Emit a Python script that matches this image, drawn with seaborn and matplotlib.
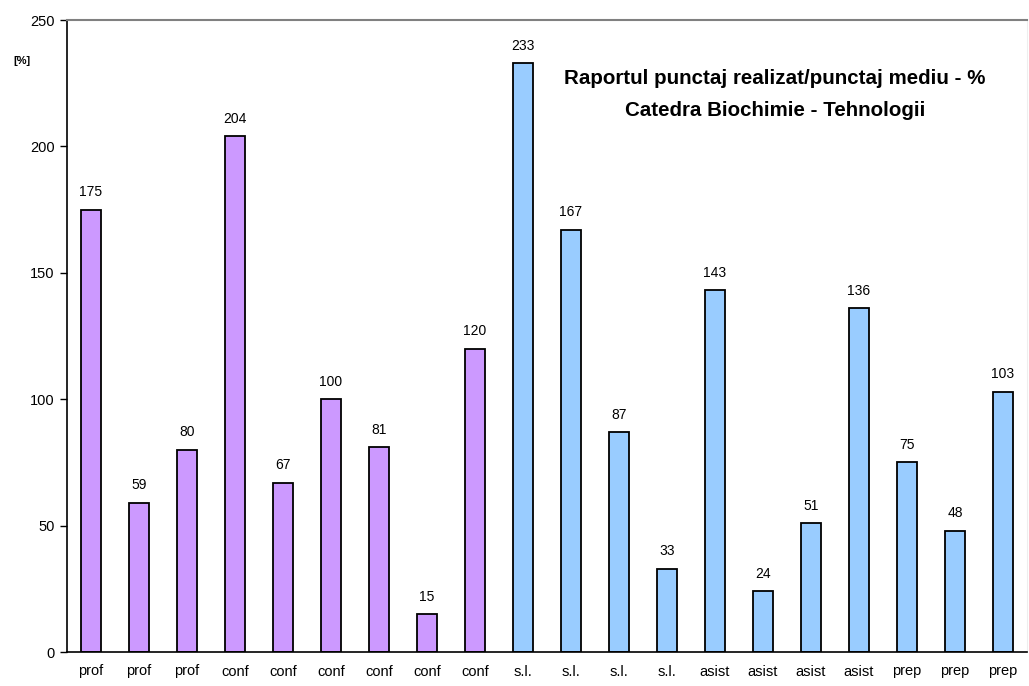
import pandas as pd
import matplotlib
matplotlib.use('Agg')
import matplotlib.pyplot as plt
import seaborn as sns
import numpy as np

# Data
posturi = ['prof', 'prof', 'prof', 'conf', 'conf', 'conf', 'conf', 'conf', 'conf',
           's.l.', 's.l.', 's.l.', 's.l.', 'asist', 'asist', 'asist', 'asist',
           'prep', 'prep', 'prep']
valori = [175, 59, 80, 204, 67, 100, 81, 15, 120,
          233, 167, 87, 33, 143, 24, 51, 136, 75, 48, 103]
grupe = ['prof/conf'] * 9 + ['s.l./asist/prep'] * 11
culori = {'prof/conf': '#CC99FF', 's.l./asist/prep': '#99CCFF'}

df = pd.DataFrame({'poz': range(len(valori)), 'post': posturi,
                   'valoare': valori, 'grupa': grupe})

sns.set_style('white')
plt.rcParams['font.family'] = ['Liberation Sans', 'DejaVu Sans']
plt.rcParams['text.color'] = 'black'
plt.rcParams['xtick.color'] = 'black'
plt.rcParams['ytick.color'] = 'black'

fig = plt.figure(figsize=(10.29, 6.86), dpi=100)
ax = fig.add_axes([67 / 1029, 1 - 652 / 686, 960 / 1029, 632 / 686])

sns.barplot(data=df, x='poz', y='valoare', hue='grupa', palette=culori,
            dodge=False, width=0.4, edgecolor='black', linewidth=1.3,
            saturation=1, legend=False, ax=ax)

# value labels
for i, v in enumerate(valori):
    ax.annotate(str(v), (i, v), xytext=(0, 7.5), textcoords='offset points',
                ha='center', va='bottom', fontsize=10, color='black')

ax.set_xlim(-0.5, len(valori) - 0.5)
ax.set_ylim(0, 250)
ax.set_yticks([0, 50, 100, 150, 200, 250])
ax.set_xticks(range(len(valori)))
ax.set_xticklabels(posturi, fontsize=10.5)
ax.set_xticks(np.arange(-0.5, len(valori)), minor=True)
ax.tick_params(axis='x', which='major', length=0, pad=9)
ax.tick_params(axis='x', which='minor', length=5, width=1, direction='out', color='black')
ax.tick_params(axis='y', length=5, width=1, direction='out', color='black',
               labelsize=10.5, pad=4, left=True)
ax.set_xlabel('')
ax.set_ylabel('')

for s in ['left', 'bottom']:
    ax.spines[s].set_color('black')
    ax.spines[s].set_linewidth(1.2)
ax.spines['top'].set_color('#808080')
ax.spines['top'].set_linewidth(1.5)
ax.spines['right'].set_color('#eeeeee')
ax.spines['right'].set_linewidth(0.8)

fig.text(22 / 1029, 1 - 61 / 686, '[%]', fontsize=8, fontweight='bold',
         ha='center', va='center')
fig.text(775 / 1029, 1 - 79 / 686, 'Raportul punctaj realizat/punctaj mediu - %',
         fontsize=14.8, fontweight='bold', ha='center', va='center')
fig.text(775 / 1029, 1 - 110 / 686, 'Catedra Biochimie - Tehnologii',
         fontsize=14.8, fontweight='bold', ha='center', va='center')

fig.savefig('out.png', dpi=100)
